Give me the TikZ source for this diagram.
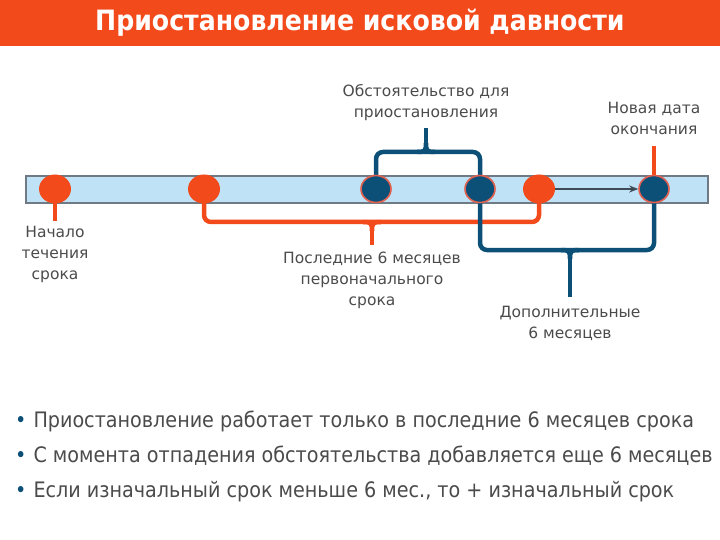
\documentclass[tikz,border=0pt]{standalone}
\usepackage{fontspec}
\setmainfont{DejaVu Sans}
\newfontfamily\condfont{DejaVu Sans Condensed}
\usetikzlibrary{arrows.meta,positioning,shapes.geometric,backgrounds}
\definecolor{tlorange}{RGB}{243,74,28}
\definecolor{tlnavy}{RGB}{12,80,120}
\definecolor{tlblue}{RGB}{192,226,246}
\definecolor{tlgray}{RGB}{112,122,132}
\definecolor{tltext}{RGB}{75,75,75}
\definecolor{tlrim}{RGB}{226,96,80}
\definecolor{tlarrow}{RGB}{62,74,86}
\tikzset{
  bracetip/.pic={
    \draw[line width=4.5pt] (-9,0) .. controls (-1,0) and (0,1) .. (0,9)
      .. controls (0,1) and (1,0) .. (9,0);
    \draw[line width=4.5pt] (0,8) -- (0,#1);
  }
}

\begin{document}
\begin{tikzpicture}[x=1pt,y=-1pt,
  odot/.style={ellipse,fill=tlorange,minimum width=32pt,minimum height=29pt,inner sep=0pt},
  ndot/.style={odot,fill=tlnavy,draw=tlrim,line width=1.6pt,minimum width=30pt,minimum height=27pt},
  oline/.style={tlorange,line width=4.5pt,rounded corners=7pt},
  nline/.style={tlnavy,line width=4.5pt,rounded corners=7pt},
  lbl/.style={font=\fontsize{15.5}{21}\selectfont,text=tltext,align=center,inner sep=0pt},
  bul/.style={anchor=base west,font=\condfont\fontsize{21.3}{25}\selectfont,text=tltext,inner sep=0pt}]
\useasboundingbox (0,0) rectangle (720,540);
% Header
\fill[tlorange] (0,0) rectangle (720,46);
\node[font=\condfont\bfseries\fontsize{28}{32}\selectfont, text=white] (title) at (360,23) {Приостановление исковой давности};
% Points on the time line
\node[odot] (start) at (55,189) {};
\node[odot] (six) at (204,189) {};
\node[ndot] (susp) at (376,189) {};
\node[ndot] (resume) at (480,189) {};
\node[odot] (oldend) at (539,189) {};
\node[ndot] (newend) at (654,189) {};
\coordinate (startpin) at (55,221);
\coordinate (newpin) at (654,146);
\coordinate (obrace) at (372,222);
\coordinate (ntop) at (426,152);
\coordinate (nbot) at (570,250);
\begin{scope}[on background layer]
% Bar
\draw[tlgray, fill=tlblue, line width=1.2pt] (26,176) rectangle (708,203);
% Brackets
\draw[oline] (start.center) -- (startpin);
\draw[oline] (newend.center) -- (newpin);
\draw[oline] (six.center) |- (obrace) -| (oldend.center);
\draw[nline] (susp.center) |- (ntop) -| (resume.center);
\draw[nline] (resume.center) |- (nbot) -| (newend.center);
\end{scope}
\pic[tlorange] at (obrace) {bracetip=23};
\pic[tlnavy, yscale=-1] at (ntop) {bracetip=24};
\pic[tlnavy] at (nbot) {bracetip=47};
% Shift of the end date
\draw[-{Stealth[length=9pt,width=7pt]}, tlarrow, line width=2pt] (oldend.east) -- (newend.west);
% Labels
\node[lbl, below=5pt of startpin] (startlbl) {Начало\\течения\\срока};
\node[lbl, below=30pt of obrace] (lastlbl) {Последние 6 месяцев\\первоначального\\срока};
\node[lbl, above=31pt of ntop] (susplbl) {Обстоятельство для\\приостановления};
\node[lbl, above=11pt of newpin] (newlbl) {Новая дата\\окончания};
\node[lbl, below=56pt of nbot] (addlbl) {Дополнительные\\6 месяцев};
% Notes
\node[bul] (note1) at (15,427) {\textcolor{tlnavy}{•}\hspace{7pt}Приостановление работает только в последние 6 месяцев срока};
\node[bul] (note2) at (15,462) {\textcolor{tlnavy}{•}\hspace{7pt}С момента отпадения обстоятельства добавляется еще 6 месяцев};
\node[bul] (note3) at (15,497) {\textcolor{tlnavy}{•}\hspace{7pt}Если изначальный срок меньше 6 мес., то + изначальный срок};
\end{tikzpicture}
\end{document}
